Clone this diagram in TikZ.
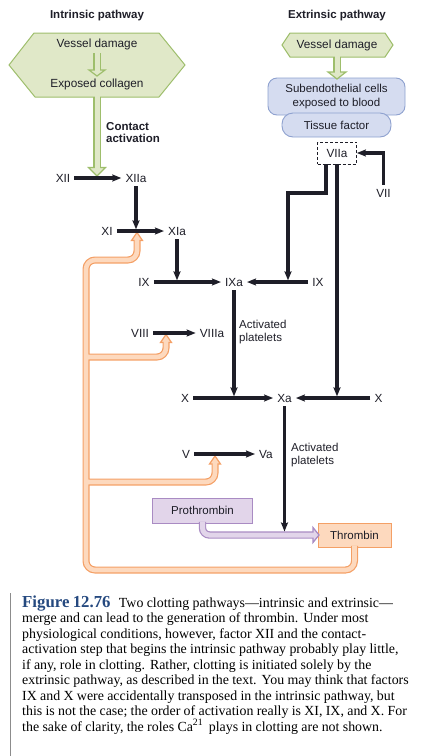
\documentclass[tikz,border=0pt]{standalone}
\usepackage{fontspec}
\setmainfont{Liberation Serif}
\newfontfamily\labelfont{Liberation Sans}
\usepackage{tikz}
\usetikzlibrary{arrows.meta,positioning,calc}
\usepackage{xcolor}
\definecolor{ink}{HTML}{1E1E28}
\definecolor{leafbg}{HTML}{E0E8C8}
\definecolor{leafln}{HTML}{9EBE6C}
\definecolor{skybg}{HTML}{D5DCF0}
\definecolor{skyln}{HTML}{8EA1CF}
\definecolor{lilacbg}{HTML}{E2D5EA}
\definecolor{lilacln}{HTML}{A98BC3}
\definecolor{peachbg}{HTML}{FDD9BE}
\definecolor{peachln}{HTML}{F4A066}
\definecolor{figblue}{HTML}{25497F}

% hollow heads: tip x, tip y, half width, length, style
\newcommand\hup[5]{\filldraw[#5] (#1,#2) -- ++(#3,#4) -- ++(-2*#3,0) -- cycle;}
\newcommand\hdown[5]{\filldraw[#5] (#1,#2) -- ++(#3,-#4) -- ++(-2*#3,0) -- cycle;}
\newcommand\hright[5]{\filldraw[#5] (#1,#2) -- ++(-#4,-#3) -- ++(0,2*#3) -- cycle;}

\begin{document}
\begin{tikzpicture}[x=1pt,y=-1pt,
  lbl/.style={font=\labelfont\fontsize{11.8}{13}\selectfont,text=ink,inner sep=4pt},
  ttl/.style={font=\labelfont\bfseries\fontsize{11.5}{12}\selectfont,text=ink,inner sep=0pt},
  note/.style={font=\labelfont\fontsize{11.5}{13}\selectfont,text=ink,align=left,anchor=west,inner sep=0pt},
  box/.style={font=\labelfont\fontsize{11.5}{14}\selectfont,text=ink,align=center,line width=0.9pt,inner sep=0pt},
  arr/.style={draw=ink,line width=3.2pt,-{Stealth[length=9pt,width=7pt,inset=1.5pt]}},
  leafout/.style={draw=leafln,line width=7.4pt},
  leafin/.style={draw=leafbg,line width=5pt},
  leafhead/.style={draw=leafln,fill=leafbg,line width=1.2pt},
  lilacout/.style={draw=lilacln,line width=7.4pt,rounded corners=7pt},
  lilacin/.style={draw=lilacbg,line width=5pt,rounded corners=7pt},
  lilachead/.style={draw=lilacln,fill=lilacbg,line width=1.2pt},
  peachout/.style={draw=peachln,line width=7pt,rounded corners=9pt},
  peachin/.style={draw=peachbg,line width=4.6pt,rounded corners=9pt},
  peachhead/.style={draw=peachln,fill=peachbg,line width=1.2pt}]
  \useasboundingbox (0,0) rectangle (437,756);

  % intrinsic start
  \node[ttl] (intr) at (97,16) {Intrinsic pathway};
  \filldraw[draw=leafln,fill=leafbg,line width=1pt] (9,65) -- (34,33) -- (159,33) -- (185,65) -- (159,97) -- (35,97) -- cycle;
  \draw[leafout] (97,53) -- (97,71.5);
  \hdown{97}{76}{8}{6}{leafhead}
  \draw[leafin] (97,52) -- (97,71.5);
  \draw[leafout] (97,97) -- (97,169);
  \hdown{97}{176}{8.5}{8.5}{leafhead}
  \draw[leafin] (97,95) -- (97,169);
  \node[lbl] (vdl) at (97,44) {Vessel damage};
  \node[lbl] (col) at (97,84) {Exposed collagen};
  \node[ttl,align=left,anchor=west] (contact) at (106,133) {Contact\\activation};

  % extrinsic start
  \node[ttl] (extr) at (337,16) {Extrinsic pathway};
  \filldraw[draw=leafln,fill=leafbg,line width=1pt] (282,45) -- (290,33) -- (385,33) -- (393,45) -- (385,57) -- (290,57) -- cycle;
  \node[lbl] (vdr) at (337,45) {Vessel damage};
  \node[box,draw=skyln,fill=skybg,rounded corners=9pt,minimum width=137pt,minimum height=37pt] (sub) at (336.5,96.5) {Subendothelial cells\\exposed to blood};
  \node[box,draw=skyln,fill=skybg,rounded corners=11pt,minimum width=109pt,minimum height=24pt] (tf) at (336.5,125) {Tissue factor};
  \draw[leafout] (337,57) -- (337,73.5);
  \hdown{337}{79}{9}{7}{leafhead}
  \draw[leafin] (337,55.5) -- (337,73.5);
  \node[lbl,draw=ink,dash pattern=on 3pt off 2pt,line width=0.8pt,minimum width=39pt,minimum height=22pt,inner sep=0pt] (viia) at (337,153) {VIIa};
  \node[lbl] (vii) at (383.5,193) {VII};

  % prothrombin -> thrombin
  \node[box,draw=lilacln,fill=lilacbg,minimum width=100pt,minimum height=25pt] (pro) at (202.5,510.5) {Prothrombin};
  \node[box,draw=peachln,fill=peachbg,minimum width=73pt,minimum height=24pt] (thr) at (354.5,535) {Thrombin};
  \def\lilacroute{($(pro.south)+(0,-1.5)$) |- ($(thr.west)+(-3.5,0)$)}
  \draw[lilacout] \lilacroute;
  \hright{319}{535}{7.5}{6}{lilachead}
  \draw[lilacin] \lilacroute;

  % thrombin feedback
  \def\peachroute{($(thr.south)+(0,-1.5)$) |- (86,570) -- (86,260) -| (137,238.5)
    (86,357) -| (166,340.5) (86,482) -| (215,462)}
  \draw[peachout] \peachroute;
  \hup{137}{232.5}{5.5}{8}{peachhead}
  \hup{166}{334.5}{5.5}{8}{peachhead}
  \hup{215}{456}{5.5}{8}{peachhead}
  \draw[peachin] \peachroute;

  % factors
  \node[lbl] (xii) at (63,178) {XII};
  \node[lbl] (xiia) at (136,178) {XIIa};
  \node[lbl] (xi) at (107,231) {XI};
  \node[lbl] (xia) at (177,231) {XIa};
  \node[lbl] (ix) at (144,282) {IX};
  \node[lbl] (ixa) at (234,282) {IXa};
  \node[lbl] (ix2) at (318,282) {IX};
  \node[lbl] (viii) at (140,333) {VIII};
  \node[lbl] (viiia) at (212,333) {VIIIa};
  \node[note] (plt1) at (239,332.5) {Activated\\platelets};
  \node[lbl] (xl) at (185,398) {X};
  \node[lbl] (xa) at (284.5,398) {Xa};
  \node[lbl] (xr) at (378.5,398) {X};
  \node[lbl] (v) at (186,454) {V};
  \node[lbl] (va) at (266,454) {Va};
  \node[note] (plt2) at (291,455) {Activated\\platelets};

  \coordinate (j11) at (136,231);
  \coordinate (j9) at (177,282);
  \coordinate (k1) at (326,193);
  \coordinate (k2) at (288,193);
  \coordinate (j9b) at (288,282);
  \coordinate (jxl) at (234,398);
  \coordinate (jxr) at (337,398);
  \coordinate (jp) at (284.5,535);

  \draw[arr] (xii) -- (xiia);
  \draw[arr,shorten >=1.6pt] (xiia) -- (j11);
  \draw[arr] (xi) -- (xia);
  \draw[arr,shorten >=1.6pt] (xia) -- (j9);
  \draw[arr] (ix) -- (ixa);
  \draw[arr] (ix2) -- (ixa);
  \draw[arr] (vii) |- (viia);
  \draw[arr,shorten >=1.6pt] (viia.south -| k1) -- (k1) -- (k2) -- (j9b);
  \draw[arr,shorten >=1.6pt] (viia) -- (jxr);
  \draw[arr,shorten >=1.6pt] (ixa) -- (jxl);
  \draw[arr] (viii) -- (viiia);
  \draw[arr] (xl) -- (xa);
  \draw[arr] (xr) -- (xa);
  \draw[arr] (v) -- (va);
  \draw[arr,shorten >=3.5pt] (xa) -- (jp);

  % caption
  \draw[black!45,line width=1pt] (10,593) -- (10,756);
  \node[anchor=base west,align=left,text width=420pt,inner sep=0pt] (cap) at (22,607)
  {\fontsize{13.9}{15.5}\selectfont\lineskiplimit=-10pt
  {\color{figblue}\fontsize{16.8}{15.5}\selectfont\bfseries Figure 12.76}\hspace{5pt} Two clotting pathways---intrinsic and extrinsic---\\
  merge and can lead to the generation of thrombin. Under most\\
  physiological conditions, however, factor XII and the contact-\\
  activation step that begins the intrinsic pathway probably play little,\\
  if any, role in clotting. Rather, clotting is initiated solely by the\\
  extrinsic pathway, as described in the text. You may think that factors\\
  IX and X were accidentally transposed in the intrinsic pathway, but\\
  this is not the case; the order of activation really is XI, IX, and X. For\\
  the sake of clarity, the roles Ca\textsuperscript{21}\, plays in clotting are not shown.\par};
\end{tikzpicture}
\end{document}
